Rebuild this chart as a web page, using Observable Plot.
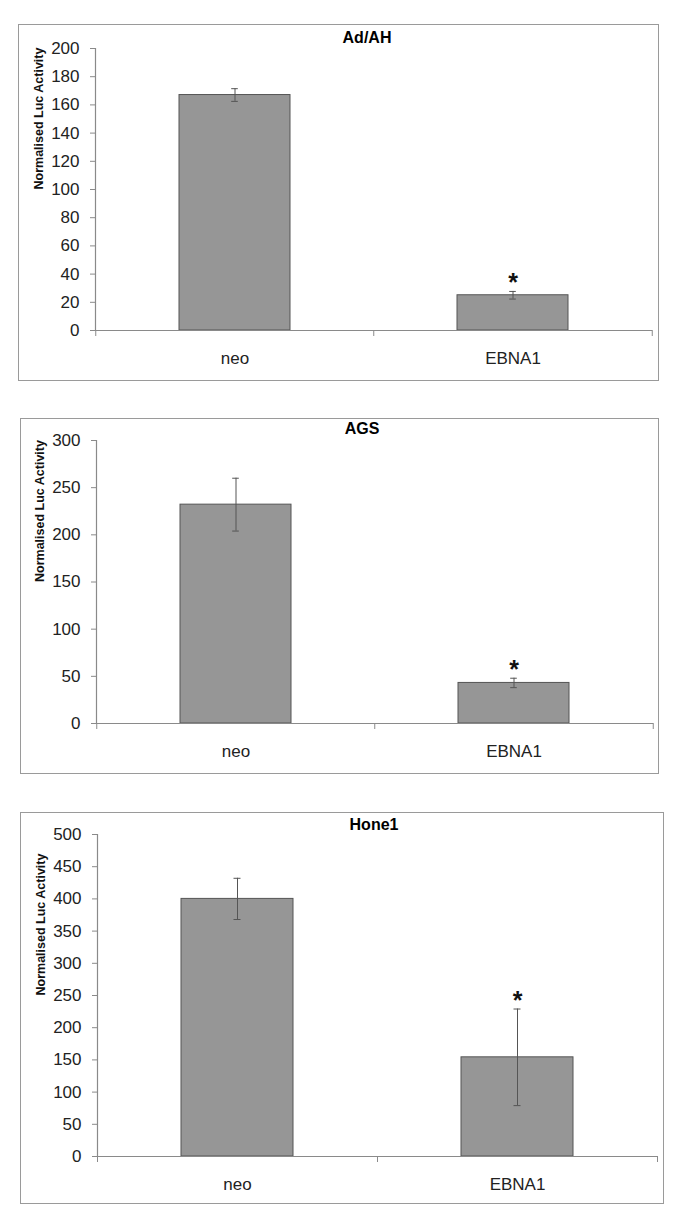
<!DOCTYPE html>
<html><head><meta charset="utf-8">
<script src="https://cdn.jsdelivr.net/npm/d3@7"></script>
<script src="https://cdn.jsdelivr.net/npm/@observablehq/plot@0.6"></script>
<style>
body{margin:0;background:#fff;font-family:"Liberation Sans",Arial,sans-serif;}
#page{position:relative;width:685px;height:1229px;overflow:hidden;}
.panel{position:absolute;}
.frame{position:absolute;left:0;top:0;right:0;bottom:0;border:1.5px solid #9a9a9a;}
.panel svg{position:absolute;left:0;top:0;overflow:visible;}
.title{position:absolute;font-weight:bold;font-size:16px;color:#000;transform:translate(-50%,-50%);white-space:nowrap;}
</style></head><body><div id="page"></div>
<script>
const categories = ["neo", "EBNA1"];
const yLabel = "Normalised Luc Activity";

const adahTitle = "Ad/AH";
const adahValues = [167, 25];
const adahErrors = [4.5, 2.7];
const adahTicks = [0, 20, 40, 60, 80, 100, 120, 140, 160, 180, 200];

const agsTitle = "AGS";
const agsValues = [232, 43];
const agsErrors = [28, 5];
const agsTicks = [0, 50, 100, 150, 200, 250, 300];

const hone1Title = "Hone1";
const hone1Values = [400, 154];
const hone1Errors = [32, 75];
const hone1Ticks = [0, 50, 100, 150, 200, 250, 300, 350, 400, 450, 500];

const significant = [false, true];

const panels = [
  {title: adahTitle, values: adahValues, errors: adahErrors, ticks: adahTicks,
   box: {left: 18, top: 24, width: 641, height: 357}, m: {l: 77, r: 7, t: 24, b: 51}, titlePos: [367, 38]},
  {title: agsTitle, values: agsValues, errors: agsErrors, ticks: agsTicks,
   box: {left: 20, top: 418, width: 639, height: 356}, m: {l: 76, r: 6, t: 22, b: 51}, titlePos: [362, 429]},
  {title: hone1Title, values: hone1Values, errors: hone1Errors, ticks: hone1Ticks,
   box: {left: 20, top: 812, width: 644, height: 392}, m: {l: 77, r: 7, t: 22, b: 48}, titlePos: [374, 825]}
];

const page = document.getElementById("page");
const font = "Liberation Sans, Arial, sans-serif";

for (const p of panels) {
  const rows = categories.map((c, i) => ({cat: c, value: p.values[i], err: p.errors[i], star: significant[i]}));
  const {width, height} = p.box;
  const step = (width - p.m.l - p.m.r) / 2;
  const bandwidth = step * 0.4;
  const capInset = (bandwidth - 7) / 2;
  const chart = Plot.plot({
    width, height,
    marginLeft: p.m.l, marginRight: p.m.r, marginTop: p.m.t, marginBottom: p.m.b,
    style: {fontFamily: font, background: "transparent", overflow: "visible"},
    x: {domain: categories, paddingInner: 0.6, paddingOuter: 0.3, axis: null},
    y: {domain: [0, p.ticks[p.ticks.length - 1]], axis: null},
    marks: [
      Plot.barY(rows, {x: "cat", y: "value", fill: "#969696", stroke: "#555", strokeWidth: 1}),
      Plot.ruleX(rows, {x: "cat", y1: d => d.value - d.err, y2: d => d.value + d.err, stroke: "#555", strokeWidth: 1}),
      Plot.tickY(rows, {x: "cat", y: d => d.value + d.err, insetLeft: capInset, insetRight: capInset, stroke: "#555"}),
      Plot.tickY(rows, {x: "cat", y: d => d.value - d.err, insetLeft: capInset, insetRight: capInset, stroke: "#555"}),
      Plot.text(rows.filter(d => d.star), {x: "cat", y: d => d.value + d.err, text: () => "*", dy: -8, fontSize: 25, fontWeight: "bold", fill: "#111"}),
      Plot.ruleY([0], {stroke: "#8a8a8a", strokeWidth: 1.2}),
      Plot.frame({anchor: "left", stroke: "#8a8a8a", strokeWidth: 1.2}),
      Plot.axisY({ticks: p.ticks, tickSize: 5, tickFormat: () => "", stroke: "#8a8a8a", label: null}),
      Plot.axisY({ticks: p.ticks, tickSize: 0, tickPadding: 16, fontSize: 17, color: "#222", label: null}),
      Plot.axisX({ticks: categories, tickSize: 6, tickFormat: () => "", dx: -step / 2, stroke: "#8a8a8a", label: null}),
      Plot.axisX({ticks: [categories[categories.length - 1]], tickSize: 6, tickFormat: () => "", dx: step / 2, stroke: "#8a8a8a", label: null}),
      Plot.axisX({tickSize: 0, tickPadding: 21, fontSize: 17, color: "#222", label: null}),
      Plot.text([yLabel], {frameAnchor: "left", rotate: -90, dx: -57, fontSize: 12.5, fontWeight: "bold", fill: "#111"})
    ]
  });
  const div = document.createElement("div");
  div.className = "panel";
  Object.assign(div.style, {left: p.box.left + "px", top: p.box.top + "px", width: width + "px", height: height + "px"});
  const fr = document.createElement("div");
  fr.className = "frame";
  div.appendChild(fr);
  div.appendChild(chart);
  page.appendChild(div);
  const t = document.createElement("div");
  t.className = "title";
  t.textContent = p.title;
  t.style.left = p.titlePos[0] + "px";
  t.style.top = p.titlePos[1] + "px";
  page.appendChild(t);
}
</script></body></html>
